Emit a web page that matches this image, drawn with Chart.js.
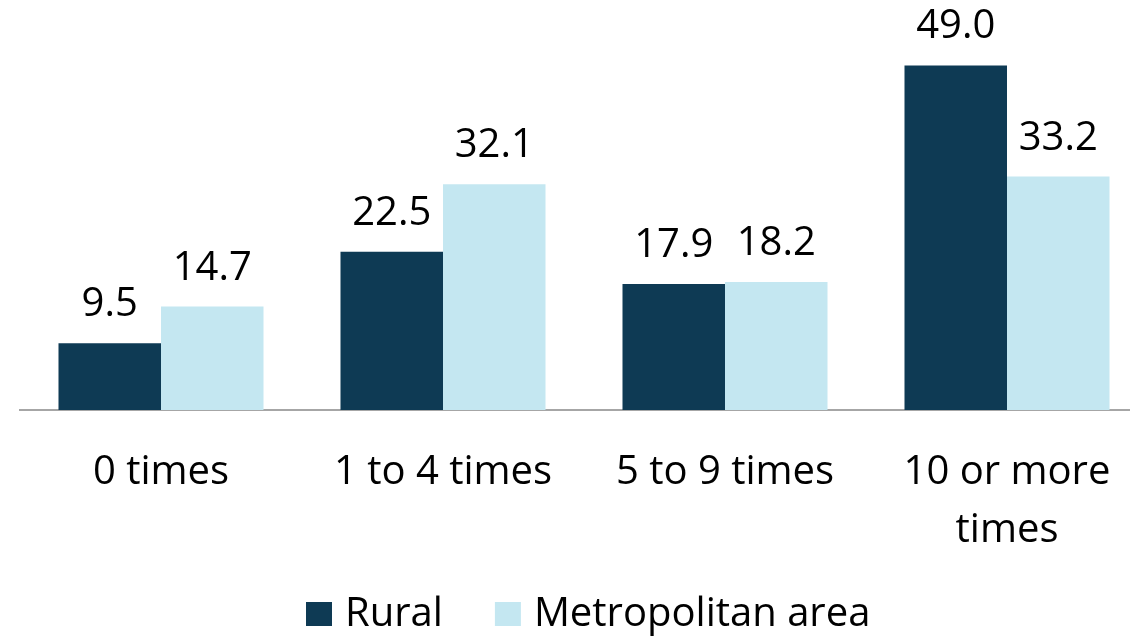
<!DOCTYPE html>
<html>
<head>
<meta charset="utf-8">
<script src="https://cdn.jsdelivr.net/npm/chart.js@4/dist/chart.umd.min.js"></script>
<style>
  html, body { margin: 0; padding: 0; background: #fff; overflow: hidden; }
  #wrap { position: relative; width: 1148px; height: 636px; }
</style>
</head>
<body>
<div id="wrap"><canvas id="chart"></canvas></div>
<script>
// Frequency categories and share (%) for each area type
const categories = ['0 times', '1 to 4 times', '5 to 9 times', ['10 or more', 'times']];
const seriesNames = ['Rural', 'Metropolitan area'];
const rural = [9.5, 22.5, 17.9, 49.0];
const metro = [14.7, 32.1, 18.2, 33.2];

const DARK = '#0e3a54';
const LIGHT = '#c4e7f1';
const FONT = "'Open Sans', 'Noto Sans', sans-serif";

// Value labels above each bar
const valueLabels = {
  id: 'valueLabels',
  afterDatasetsDraw(chart) {
    const ctx = chart.ctx;
    ctx.save();
    ctx.font = '40px ' + FONT;
    ctx.fillStyle = '#000';
    ctx.textAlign = 'center';
    ctx.textBaseline = 'alphabetic';
    chart.data.datasets.forEach((ds, i) => {
      chart.getDatasetMeta(i).data.forEach((bar, j) => {
        ctx.fillText(ds.data[j].toFixed(1), bar.x, bar.y - 27);
      });
    });
    ctx.restore();
  }
};

// Legend row under the axis labels
const bottomLegend = {
  id: 'bottomLegend',
  afterDraw(chart) {
    const ctx = chart.ctx;
    ctx.save();
    ctx.font = '40px ' + FONT;
    ctx.textBaseline = 'alphabetic';
    ctx.textAlign = 'left';
    const boxW = 26, boxH = 24, boxGap = 13, itemGap = 52;
    const baseline = 626;
    let x = 306;
    chart.data.datasets.forEach(ds => {
      ctx.fillStyle = ds.backgroundColor;
      ctx.fillRect(x, baseline - boxH, boxW, boxH);
      x += boxW + boxGap;
      ctx.fillStyle = '#000';
      ctx.fillText(ds.label, x, baseline);
      x += ctx.measureText(ds.label).width + itemGap;
    });
    ctx.restore();
  }
};

new Chart(document.getElementById('chart'), {
  type: 'bar',
  data: {
    labels: categories,
    datasets: [
      { label: seriesNames[0], data: rural, backgroundColor: DARK },
      { label: seriesNames[1], data: metro, backgroundColor: LIGHT }
    ]
  },
  options: {
    responsive: true,
    maintainAspectRatio: false,
    animation: false,
    layout: { padding: { left: 20, right: 0, top: 0, bottom: 0 } },
    datasets: { bar: { barPercentage: 1.0, categoryPercentage: 0.727 } },
    plugins: {
      legend: { display: false },
      tooltip: { enabled: false }
    },
    scales: {
      x: {
        grid: { display: false, drawTicks: false },
        border: { display: true, color: '#a6a6a6', width: 2 },
        ticks: {
          color: '#000',
          padding: 34,
          maxRotation: 0,
          autoSkip: false,
          font: { family: FONT, size: 40, lineHeight: 1.45 }
        },
        afterFit(scale) { scale.height = 226; }
      },
      y: {
        display: false,
        min: 0,
        max: 58.3
      }
    }
  },
  plugins: [valueLabels, bottomLegend]
});
</script>
</body>
</html>
